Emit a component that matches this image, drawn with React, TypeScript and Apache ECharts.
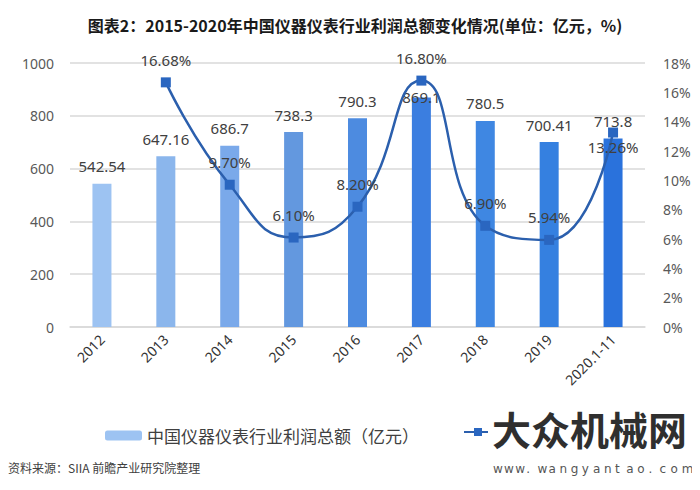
import React, { useEffect, useRef } from "react";
import * as echarts from "echarts";

const categories = ["2012", "2013", "2014", "2015", "2016", "2017", "2018", "2019", "2020.1-11"];
const profitValues = [542.54, 647.16, 686.7, 738.3, 790.3, 869.1, 780.5, 700.41, 713.8];
const growthValues: (number | null)[] = [null, 16.68, 9.7, 6.1, 8.2, 16.8, 6.9, 5.94, 13.26];
const growthLabels = ["", "16.68%", "9.70%", "6.10%", "8.20%", "16.80%", "6.90%", "5.94%", "13.26%"];
const barColors = ["#9dc3f2", "#8bb6ec", "#7aa9ea", "#6398df", "#4d8be0", "#3b7ee0", "#3f87e2", "#3580e0", "#2a72dc"];
const leftTicks = { min: 0, max: 1000, interval: 200 };
const rightTicks = { min: 0, max: 18, interval: 2 };

const barName = "中国仪器仪表行业利润总额（亿元）";
const lineName = "增速（%）";
const titleText = "图表2：2015-2020年中国仪器仪表行业利润总额变化情况(单位：亿元，%)";
const sourceText = "资料来源：SIIA 前瞻产业研究院整理";
const markText = "大众机械网";
const urlText = "www.wangyantao.com";

const FONT = "'Noto Sans', 'Noto Sans CJK SC', sans-serif";
// the page has an 8px body margin; the chart div starts at (8, 8)
const OFF = 8;

export default function App() {
  const ref = useRef<HTMLDivElement>(null);
  useEffect(() => {
    if (!ref.current) return;
    const chart = echarts.init(ref.current, undefined, { renderer: "svg" });
    const urlChars = urlText.split("").map((ch, i) => ({
      type: "text",
      left: 493 - OFF + i * 11.1,
      top: 463 - OFF,
      z: 11,
      style: { text: ch, fontSize: 12, fill: "#555", fontFamily: "'DejaVu Sans', sans-serif" },
    }));
    chart.setOption({
      animation: false,
      backgroundColor: "#ffffff",
      textStyle: { fontFamily: FONT },
      title: {
        text: titleText,
        left: 350 - OFF,
        textAlign: "center",
        top: 12 - OFF,
        textStyle: { fontSize: 16, fontWeight: "bold", color: "#1a1a1a", fontFamily: "'Noto Sans CJK SC', sans-serif" },
      },
      grid: { left: 70 - OFF, right: 55, top: 63 - OFF, bottom: 163 },
      legend: [
        {
          data: [barName],
          left: 100 - OFF,
          top: 422 - OFF,
          itemWidth: 37,
          itemHeight: 10,
          itemGap: 5,
          textStyle: { fontSize: 17, color: "#404040", fontFamily: "'Noto Sans CJK SC', sans-serif" },
        },
        {
          data: [lineName],
          left: 458 - OFF,
          top: 422 - OFF,
          itemWidth: 28,
          itemHeight: 10,
          formatter: () => "",
          textStyle: { fontSize: 17 },
        },
      ],
      xAxis: {
        type: "category",
        data: categories,
        axisLine: { show: true, lineStyle: { color: "#d9d9d9", width: 1.5 } },
        axisTick: { show: false },
        axisLabel: { rotate: 45, fontSize: 14, color: "#333333", margin: 10, interval: 0 },
      },
      yAxis: [
        {
          type: "value",
          ...leftTicks,
          axisLine: { show: false },
          axisTick: { show: false },
          splitLine: { lineStyle: { color: "#d9d9d9", width: 1.5 } },
          axisLabel: { fontSize: 14, color: "#595959", margin: 16, formatter: (v: number) => String(v) },
        },
        {
          type: "value",
          ...rightTicks,
          position: "right",
          axisLine: { show: false },
          axisTick: { show: false },
          splitLine: { show: false },
          axisLabel: { fontSize: 14, color: "#595959", margin: 18, formatter: "{value}%" },
        },
      ],
      series: [
        {
          name: barName,
          type: "bar",
          barWidth: 19,
          itemStyle: { color: barColors[0] },
          data: profitValues.map((v, i) => ({
            value: v,
            itemStyle: { color: barColors[i] },
            label: i === 5 ? { offset: [0, 17] } : undefined,
          })),
          label: {
            show: true,
            position: "top",
            distance: 10,
            fontSize: 15,
            color: "#404040",
          },
          z: 1,
        },
        {
          name: lineName,
          type: "line",
          yAxisIndex: 1,
          smooth: 0.5,
          symbol: "rect",
          symbolSize: 10,
          lineStyle: { color: "#2b5fad", width: 2.5 },
          itemStyle: { color: "#2a66c0" },
          data: growthValues.map((v, i) => ({
            value: v,
            label: i === 8 ? { position: "bottom", distance: 2 } : undefined,
          })),
          label: {
            show: true,
            position: "top",
            distance: 10,
            fontSize: 15,
            color: "#404040",
            formatter: (p: any) => growthLabels[p.dataIndex],
          },
          z: 3,
        },
      ],
      graphic: [
        {
          type: "text",
          left: 8 - OFF,
          top: 461 - OFF,
          style: { text: sourceText, fontSize: 12, fill: "#404040", fontFamily: "'Noto Sans CJK SC', sans-serif" },
        },
        {
          type: "rect",
          left: 488 - OFF,
          top: 410 - OFF,
          shape: { width: 204, height: 70 },
          style: { fill: "#ffffff" },
          z: 10,
        },
        {
          type: "text",
          left: 492 - OFF,
          top: 408 - OFF,
          style: { text: markText, fontSize: 39, fontWeight: "bold", fill: "#2f2f2f", fontFamily: "'Noto Sans CJK SC', sans-serif" },
          z: 11,
        },
        ...urlChars,
      ],
    });
    return () => chart.dispose();
  }, []);
  return <div ref={ref} style={{ width: 700 - OFF, height: 490 - OFF }} />;
}
